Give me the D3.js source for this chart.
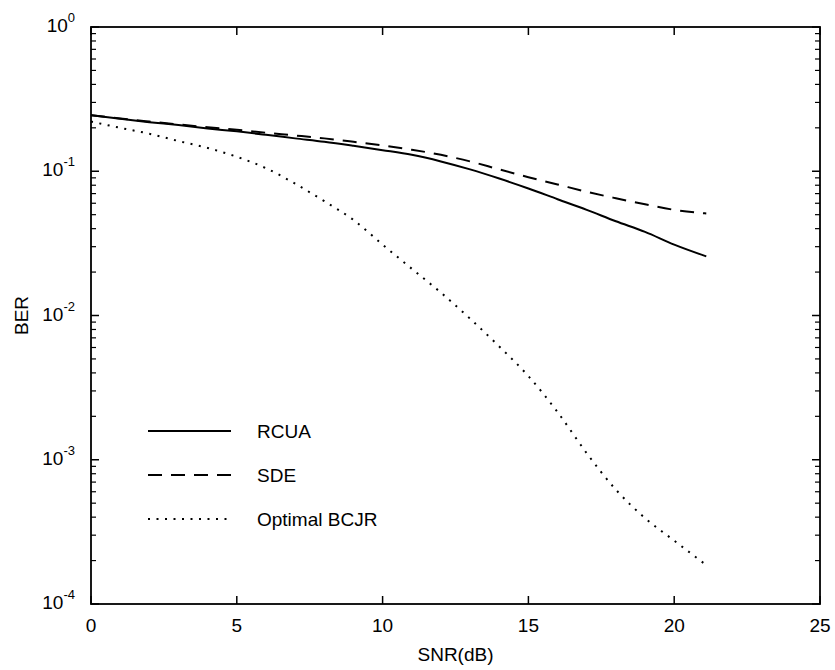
<!DOCTYPE html>
<html>
<head>
<meta charset="utf-8">
<script src="https://cdn.jsdelivr.net/npm/d3@7"></script>
<style>
  body { margin: 0; background: #fff; }
  text { font-family: "Liberation Sans", Arial, sans-serif; fill: #000; }
</style>
</head>
<body>
<svg width="835" height="670"></svg>
<script>
// SNR (dB) sample points
const snr = [0, 1, 2, 3, 4, 5, 6, 7, 8, 9, 10, 11, 12, 13, 14, 15, 16, 17, 18, 19, 20, 21.1];

// BER values
const rcua = [0.245, 0.231, 0.219, 0.209, 0.198, 0.189, 0.179, 0.169, 0.160, 0.150, 0.140,
              0.130, 0.117, 0.103, 0.089, 0.076, 0.064, 0.054, 0.045, 0.038, 0.031, 0.0257];
const sde = [0.245, 0.232, 0.221, 0.211, 0.202, 0.194, 0.185, 0.177, 0.169, 0.160, 0.151,
             0.141, 0.130, 0.117, 0.103, 0.091, 0.081, 0.072, 0.065, 0.059, 0.054, 0.051];
const bcjr = [0.221, 0.200, 0.182, 0.162, 0.145, 0.126, 0.105, 0.082, 0.062, 0.046, 0.031,
              0.0211, 0.0144, 0.0095, 0.0061, 0.0038, 0.00214, 0.00111, 0.00062, 0.000394, 0.000275, 0.000186];

const xTicks = [0, 5, 10, 15, 20, 25];
const yExps = [0, -1, -2, -3, -4];
const seriesNames = ["RCUA", "SDE", "Optimal BCJR"];

const svg = d3.select("svg");
const margin = {top: 27, right: 15, bottom: 66, left: 91};
const width = +svg.attr("width") - margin.left - margin.right;
const height = +svg.attr("height") - margin.top - margin.bottom;
const g = svg.append("g").attr("transform", "translate(" + margin.left + "," + margin.top + ")");

const x = d3.scaleLinear().domain([0, 25]).range([0, width]);
const y = d3.scaleLog().domain([1e-4, 1]).range([height, 0]);

// minor ticks for the log axis
const minor = [];
for (let e = -4; e < 0; e++) {
  for (let m = 2; m <= 9; m++) minor.push(m * Math.pow(10, e));
}

// frame
g.append("rect")
  .attr("width", width).attr("height", height)
  .attr("fill", "none").attr("stroke", "#000").attr("stroke-width", 1.8);

// x ticks (bottom and top)
xTicks.forEach(function(t) {
  g.append("line").attr("x1", x(t)).attr("x2", x(t)).attr("y1", height).attr("y2", height - 8)
    .attr("stroke", "#000").attr("stroke-width", 1.5);
  g.append("line").attr("x1", x(t)).attr("x2", x(t)).attr("y1", 0).attr("y2", 8)
    .attr("stroke", "#000").attr("stroke-width", 1.5);
  g.append("text").attr("x", x(t)).attr("y", height + 28)
    .attr("text-anchor", "middle").attr("font-size", 19).text(t);
});

// y major ticks + labels
yExps.forEach(function(e) {
  const v = Math.pow(10, e);
  g.append("line").attr("x1", 0).attr("x2", 8).attr("y1", y(v)).attr("y2", y(v))
    .attr("stroke", "#000").attr("stroke-width", 1.5);
  g.append("line").attr("x1", width).attr("x2", width - 8).attr("y1", y(v)).attr("y2", y(v))
    .attr("stroke", "#000").attr("stroke-width", 1.5);
  const t = g.append("text").attr("x", -16).attr("y", y(v) + 5)
    .attr("text-anchor", "end").attr("font-size", 19);
  t.append("tspan").text("10");
  t.append("tspan").attr("dy", -10).attr("font-size", 13).text(e);
});

// y minor ticks
g.selectAll(".minorL").data(minor).enter().append("line")
  .attr("x1", 0).attr("x2", 5).attr("y1", d => y(d)).attr("y2", d => y(d))
  .attr("stroke", "#000").attr("stroke-width", 1.2);
g.selectAll(".minorR").data(minor).enter().append("line")
  .attr("x1", width).attr("x2", width - 5).attr("y1", d => y(d)).attr("y2", d => y(d))
  .attr("stroke", "#000").attr("stroke-width", 1.2);

// axis titles
svg.append("text").attr("x", margin.left + width / 2).attr("y", 661)
  .attr("text-anchor", "middle").attr("font-size", 19).text("SNR(dB)");
svg.append("text").attr("transform", "translate(28," + (margin.top + height / 2) + ") rotate(-90)")
  .attr("text-anchor", "middle").attr("font-size", 19).text("BER");

const line = d3.line()
  .curve(d3.curveMonotoneX)
  .x(function(d) { return x(d[0]); })
  .y(function(d) { return y(d[1]); });

const styles = [
  {dash: null, width: 2},
  {dash: "14,9", width: 2},
  {dash: "2,6.5", width: 2}
];
const allSeries = [rcua, sde, bcjr];

allSeries.forEach(function(vals, i) {
  g.append("path")
    .datum(snr.map(function(s, k) { return [s, vals[k]]; }))
    .attr("fill", "none")
    .attr("stroke", "#000")
    .attr("stroke-width", styles[i].width)
    .attr("stroke-dasharray", styles[i].dash)
    .attr("d", line);
});

// legend
const legY = [431, 475, 519];
seriesNames.forEach(function(name, i) {
  svg.append("line").attr("x1", 148).attr("x2", 231).attr("y1", legY[i]).attr("y2", legY[i])
    .attr("stroke", "#000").attr("stroke-width", styles[i].width)
    .attr("stroke-dasharray", styles[i].dash);
  svg.append("text").attr("x", 257).attr("y", legY[i] + 7).attr("font-size", 19).text(name);
});
</script>
</body>
</html>
